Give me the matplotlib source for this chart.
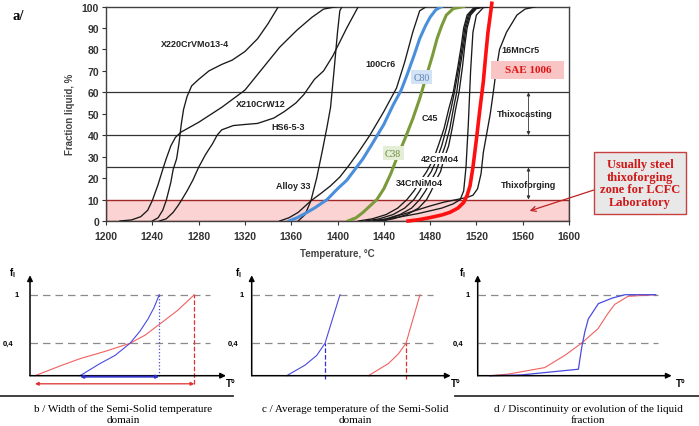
import matplotlib
matplotlib.use("Agg")
import matplotlib.pyplot as plt
from matplotlib.patches import Rectangle
from matplotlib.lines import Line2D

plt.rcParams['font.family'] = ['Liberation Sans', 'DejaVu Sans']
plt.rcParams['mathtext.fontset'] = 'custom'
plt.rcParams['mathtext.bf'] = 'Liberation Sans:bold'
plt.rcParams['mathtext.rm'] = 'Liberation Sans'

W, H = 699, 427
SERIF = 'Liberation Serif'

# ---------------- top chart data (temperature degC, fraction liquid %) ----------------
x210_t = [1212, 1222, 1230, 1236, 1240, 1245, 1249, 1252, 1256, 1260, 1265, 1280, 1300, 1320,
          1335, 1350, 1365, 1378, 1388, 1400]
x210_f = [0, 0.5, 2, 5, 9.5, 17, 24, 29, 35, 39, 41.5, 46, 53, 61, 71, 81, 89, 95, 98.8, 100]

x220_t = [1240, 1245, 1249, 1252, 1256, 1258, 1261, 1263, 1265, 1267, 1270, 1274, 1280, 1289,
          1300, 1309, 1320, 1331, 1340, 1349]
x220_f = [0, 1.5, 5, 9.5, 18, 24, 29, 36, 45, 52, 58, 63, 66, 70, 73, 75, 79, 85, 92, 100]

hs6_t = [1246, 1252, 1258, 1262, 1265, 1270, 1275, 1280, 1286, 1292, 1296, 1300, 1310, 1320,
         1331, 1345, 1354, 1364, 1371, 1380, 1388, 1396, 1408, 1418]
hs6_f = [0, 1, 4, 7, 9.5, 14, 19, 25, 31, 36, 40, 42.5, 44.5, 45, 45.5, 48, 51, 55, 59, 66,
         70, 77, 90, 100]

steep_t = [1366, 1372, 1377, 1382, 1387, 1391, 1394, 1397, 1400, 1402, 1404]
steep_f = [0, 3, 9.4, 20, 33, 44, 53, 70, 88, 98, 100]

cr6_t = [1350, 1358, 1366, 1377, 1386, 1394, 1402, 1410, 1418, 1428, 1440, 1451, 1458, 1465,
         1471, 1477]
cr6_f = [0, 1.5, 4, 9.4, 13, 16.4, 20.5, 26, 32, 40, 51, 62, 74, 88, 98, 100]

c80_t = [1358, 1365, 1372, 1380, 1391, 1400, 1408, 1415, 1422, 1430, 1440, 1448, 1455, 1460,
         1466, 1471, 1476, 1480, 1485, 1490]
c80_f = [0, 1.5, 3.5, 6, 10, 15, 19, 24, 29, 36, 45, 54, 61, 68, 77, 85, 91, 95, 98.5, 100]

c45_t = [1409, 1416, 1422, 1428, 1434, 1440, 1446, 1451, 1458, 1465, 1471, 1477, 1482, 1486,
         1490, 1494, 1500, 1509]
c45_f = [0, 1.5, 4, 7, 10, 15, 22, 29, 38, 47.6, 57, 68, 77, 85, 91, 96, 99, 100]

grp_f = [0, 1, 3, 6, 10, 14, 19, 23, 29, 35, 43, 52, 60, 72, 82, 90, 96, 99, 100]
grp1_t = [1418, 1430, 1442, 1452, 1460, 1466, 1472, 1477, 1483, 1487, 1492, 1496, 1500, 1504,
          1507, 1509, 1512, 1517, 1525]
grp2_t = [1424, 1436, 1448, 1458, 1466, 1471, 1476, 1481, 1486, 1490, 1494, 1498, 1501, 1505,
          1508, 1510, 1513, 1518, 1526]
grp3_t = [1430, 1442, 1454, 1464, 1471, 1476, 1481, 1485, 1489, 1493, 1497, 1500, 1503, 1506,
          1509, 1511, 1514, 1519, 1527]
grp4_t = [1436, 1448, 1460, 1470, 1477, 1481, 1485, 1489, 1492, 1496, 1499, 1502, 1505, 1508,
          1510, 1512, 1515, 1520, 1528]

tail_t = [1432, 1450, 1470, 1490, 1500, 1506, 1509, 1511, 1513, 1515, 1517, 1520, 1526, 1535]
tail_f = [0, 1.5, 3.5, 6, 8, 10, 14, 25, 45, 70, 88, 96, 99.5, 100]

mncr_t = [1440, 1451, 1465, 1480, 1492, 1503, 1512, 1517, 1521, 1524, 1526, 1529, 1532, 1534.6,
          1537, 1540, 1546, 1555, 1562, 1572]
mncr_f = [0, 2.3, 4.5, 7, 8.8, 10, 11, 12, 15, 22, 32, 41, 50, 60, 70, 80, 88, 96, 98.8, 100]

sae_t = [1461, 1470, 1480, 1490, 1497, 1504, 1509, 1512, 1514.5, 1517, 1520, 1523, 1526, 1528,
         1530, 1532, 1533, 1533.3]
sae_f = [0, 0.6, 1.6, 2.8, 4, 6, 8.6, 12, 16.4, 25, 38, 52, 65, 77, 88, 96, 100, 101.5]

levels = [25, 40, 60]
x_ticks = [1200, 1240, 1280, 1320, 1360, 1400, 1440, 1480, 1520, 1560, 1600]
y_ticks = [0, 10, 20, 30, 40, 50, 60, 70, 80, 90, 100]

# ---------------- schematic panels (arbitrary T, liquid fraction) ----------------
b_red_t = [5, 30, 50, 75, 100, 115, 130, 148, 164.3]
b_red_f = [0, 0.12, 0.21, 0.3, 0.4, 0.5, 0.64, 0.81, 1.0]
b_blue_t = [50, 70, 85, 100, 110, 118, 124, 129.3]
b_blue_f = [0, 0.15, 0.25, 0.4, 0.55, 0.7, 0.84, 1.0]

c_blue_t = [35, 53.3, 65, 73.3, 88.3]
c_blue_f = [0, 0.13, 0.25, 0.4, 1.0]
c_red_t = [116.7, 136.7, 146.7, 154.3, 168.3]
c_red_f = [0, 0.15, 0.27, 0.4, 1.0]

d_blue_t = [12.3, 44, 100.7, 104, 107.3, 110.6, 120.7, 135, 147.3, 178]
d_blue_f = [0, 0.01, 0.08, 0.35, 0.55, 0.7, 0.89, 0.96, 1.0, 1.0]
d_red_t = [12.3, 30.6, 67, 87, 103.7, 120.3, 130.3, 137, 150.3, 178]
d_red_f = [0, 0.02, 0.1, 0.25, 0.4, 0.58, 0.77, 0.88, 0.98, 1.0]

fig = plt.figure(figsize=(W / 100, H / 100), dpi=100)


def px_axes(x0, y0, x1, y1):
    return fig.add_axes([x0 / W, 1 - y1 / H, (x1 - x0) / W, (y1 - y0) / H])


def ftxt(px, py, s, **kw):
    return fig.text(px / W, 1 - py / H, s, **kw)


# ================= top chart =================
ax = px_axes(106, 7.5, 569, 222)
ax.set_xlim(1200, 1600)
ax.set_ylim(0, 100)
ax.add_patch(Rectangle((1200, 0), 400, 10, facecolor='#fbd3d3', edgecolor='#a02828', lw=1.0, zorder=1))
for lv in levels:
    ax.axhline(lv, color='#333333', lw=0.9, zorder=2)

black = dict(color='#1a1a1a', lw=0.95, zorder=3)
for tt, ff in [(x210_t, x210_f), (x220_t, x220_f), (hs6_t, hs6_f), (steep_t, steep_f),
               (cr6_t, cr6_f), (grp1_t, grp_f), (grp2_t, grp_f), (grp3_t, grp_f),
               (grp4_t, grp_f), (tail_t, tail_f), (mncr_t, mncr_f)]:
    ax.plot(tt, ff, **black)
ax.plot(c80_t, c80_f, color='#4a8fdb', lw=2.2, zorder=4)
ax.plot(c45_t, c45_f, color='#7b9a3a', lw=2.2, zorder=4)
ax.plot(sae_t, sae_f, color='#ff1010', lw=2.6, zorder=4, clip_on=False)

lab = dict(fontsize=6.5, fontweight='bold', color='#222222', ha='center', va='center', zorder=6)
ax.text(1277, 82.8, 'X220CrVMo13-4', **lab)
ax.text(1334, 54.7, 'X210CrW12', **lab)
ax.text(1357, 44, 'HS6-5-3', **lab)
ax.text(1362, 16.7, 'Alloy 33', **lab)
ax.text(1437, 73.4, '100Cr6', **lab)
ax.text(1480, 48.4, 'C45', **lab)
ax.text(1558, 80, '16MnCr5', **lab)
ax.text(1488.5, 29, '42CrMo4', bbox=dict(boxstyle='square,pad=0.1', fc='white', ec='none'), **lab)
ax.text(1471, 18, '34CrNiMo4', bbox=dict(boxstyle='square,pad=0.1', fc='white', ec='none'), **lab)
ax.text(1562, 50, 'Thixocasting', **lab)
ax.text(1565, 17, 'Thixoforging', **lab)
ax.text(1472.7, 67, 'C80', fontsize=7, family=SERIF, color='#5a7fb5', ha='center', va='center',
        zorder=6, bbox=dict(boxstyle='square,pad=0.25', fc='#d3e3f6', ec='none'))
ax.text(1448, 31.7, 'C38', fontsize=7, family=SERIF, color='#6a8a3a', ha='center', va='center',
        zorder=6, bbox=dict(boxstyle='square,pad=0.25', fc='#e4edd6', ec='none'))
ax.add_patch(Rectangle((1533, 66.2), 63, 8.4, facecolor='#f8c4c4', edgecolor='none', zorder=5))
ax.text(1565, 70.4, 'SAE 1006', fontsize=8, family=SERIF, fontweight='bold', color='#e01515',
        ha='center', va='center', zorder=6)

arr = dict(arrowstyle='<|-|>', color='#333333', lw=0.6, mutation_scale=5, shrinkA=0, shrinkB=0)
ax.annotate('', xy=(1565, 60), xytext=(1565, 40), arrowprops=arr, zorder=6)
ax.annotate('', xy=(1565, 25), xytext=(1565, 10), arrowprops=arr, zorder=6)

ax.set_xticks(x_ticks)
ax.set_yticks(y_ticks)
ax.tick_params(labelsize=7.5, colors='#333333', length=3, width=0.8, pad=2)
ax.tick_params(axis='x', pad=4)
for t in ax.get_xticklabels() + ax.get_yticklabels():
    t.set_fontweight('bold')
for s in ax.spines.values():
    s.set_color('#404040')
    s.set_linewidth(1.0)
ax.set_ylabel('Fraction liquid, %', fontsize=7, fontweight='bold', color='#444444')
ax.set_xlabel('Temperature, °C', fontsize=7, fontweight='bold', color='#444444')
ax.yaxis.set_label_coords(-31 / 463, 0.5)
ax.xaxis.set_label_coords(0.5, -27 / 214.5)

ax.annotate('Usually steel\nthixoforging\nzone for LCFC\nLaboratory', xy=(1566, 4.7),
            xytext=(640 / W, 1 - 184 / H), textcoords='figure fraction',
            fontsize=9, family=SERIF, fontweight='bold', color='#d01818', ha='center', va='center',
            linespacing=1.1,
            bbox=dict(boxstyle='square,pad=0.45', fc='#e8e8e8', ec='#c84040', lw=1.0),
            arrowprops=dict(arrowstyle='->', color='#c02020', lw=0.9, shrinkA=0, shrinkB=0,
                            relpos=(0, 0.4)),
            annotation_clip=False, zorder=7)

ftxt(18, 17, 'a/', fontsize=10.5, family=SERIF, fontweight='bold', ha='center', va='center')

# ================= schematic panels =================
OY = 376.7
SY = 81.0


def panel(x0, x1, ox):
    a = px_axes(x0, 262, x1, 395)
    a.set_xlim(x0 - ox, x1 - ox)
    a.set_ylim((OY - 395) / SY, (OY - 262) / SY)
    a.axis('off')
    return a


axis_arr = dict(arrowstyle='-|>', color='black', lw=1.1, mutation_scale=8, shrinkA=0, shrinkB=0)
small = dict(fontsize=5.5, fontweight='bold', ha='center', va='center')


def base(a, xend, dash_end, lab1_x, lab4_x):
    a.plot([0, dash_end], [1, 1], color='#8a8a8a', lw=0.9, dashes=(6, 4))
    a.plot([0, dash_end], [0.4, 0.4], color='#8a8a8a', lw=0.9, dashes=(6, 4))
    a.annotate('', xy=(0, 1.24), xytext=(0, 0), arrowprops=axis_arr)
    a.annotate('', xy=(xend, 0), xytext=(0, 0), arrowprops=axis_arr)
    a.text(lab1_x, 1, '1', **small)
    a.text(lab4_x, 0.4, '0,4', **small)


ab = panel(0, 240, 30)
base(ab, 196, 180, -13, -22)
ab.plot(b_red_t, b_red_f, color='#f06060', lw=0.8)
ab.plot(b_blue_t, b_blue_f, color='#4a4ae0', lw=0.8)
ab.plot([129.3, 129.3], [0, 1], color='#4a4ae0', lw=0.9, ls=':')
ab.plot([164.3, 164.3], [-0.1, 1], color='#e03030', lw=0.9, ls='--')
ab.annotate('', xy=(50, -0.012), xytext=(129.3, -0.012),
            arrowprops=dict(arrowstyle='<|-|>', color='#3030c0', lw=1.4, mutation_scale=4,
                            shrinkA=0, shrinkB=0))
ab.annotate('', xy=(5, -0.1), xytext=(164.3, -0.1),
            arrowprops=dict(arrowstyle='<|-|>', color='#e03030', lw=0.9, mutation_scale=5,
                            shrinkA=0, shrinkB=0))

ac = panel(225, 465, 251.7)
base(ac, 199, 181, -10, -18.7)
ac.plot(c_blue_t, c_blue_f, color='#4a4ae0', lw=0.8)
ac.plot(c_red_t, c_red_f, color='#f06060', lw=0.8)
ac.plot([73.3, 73.3], [-0.04, 0.4], color='#3030d0', lw=0.9, ls='--')
ac.plot([154.3, 154.3], [-0.04, 0.4], color='#e03030', lw=0.9, ls='--')

ad = panel(452, 699, 477.7)
base(ad, 194, 180, -10, -19.7)
ad.plot(d_red_t, d_red_f, color='#f06060', lw=0.8)
ad.plot(d_blue_t, d_blue_f, color='#4a4ae0', lw=0.9)

for px, py in [(12, 273), (238, 273), (462, 273)]:
    ftxt(px, py, r'$\mathbf{f}_\mathbf{l}$', fontsize=7, ha='center', va='center')
for px in [231, 456, 681]:
    ftxt(px, 384, 'T°', fontsize=7, fontweight='bold', ha='center', va='center')

fig.add_artist(Line2D([0, 233 / W], [1 - 397.3 / H] * 2, color='#333333', lw=1.3))
fig.add_artist(Line2D([455 / W, 1], [1 - 397.3 / H] * 2, color='#333333', lw=1.3))

cap = dict(fontsize=8, family=SERIF, ha='center', va='center', linespacing=1.35)
ftxt(123, 414.5, 'b / Width of the Semi-Solid temperature\ndomain', **cap)
ftxt(355, 414.5, 'c / Average temperature of the Semi-Solid\ndomain', **cap)
ftxt(588, 414.5, 'd / Discontinuity or evolution of the liquid\nfraction', **cap)

fig.savefig('out.png', dpi=100)
